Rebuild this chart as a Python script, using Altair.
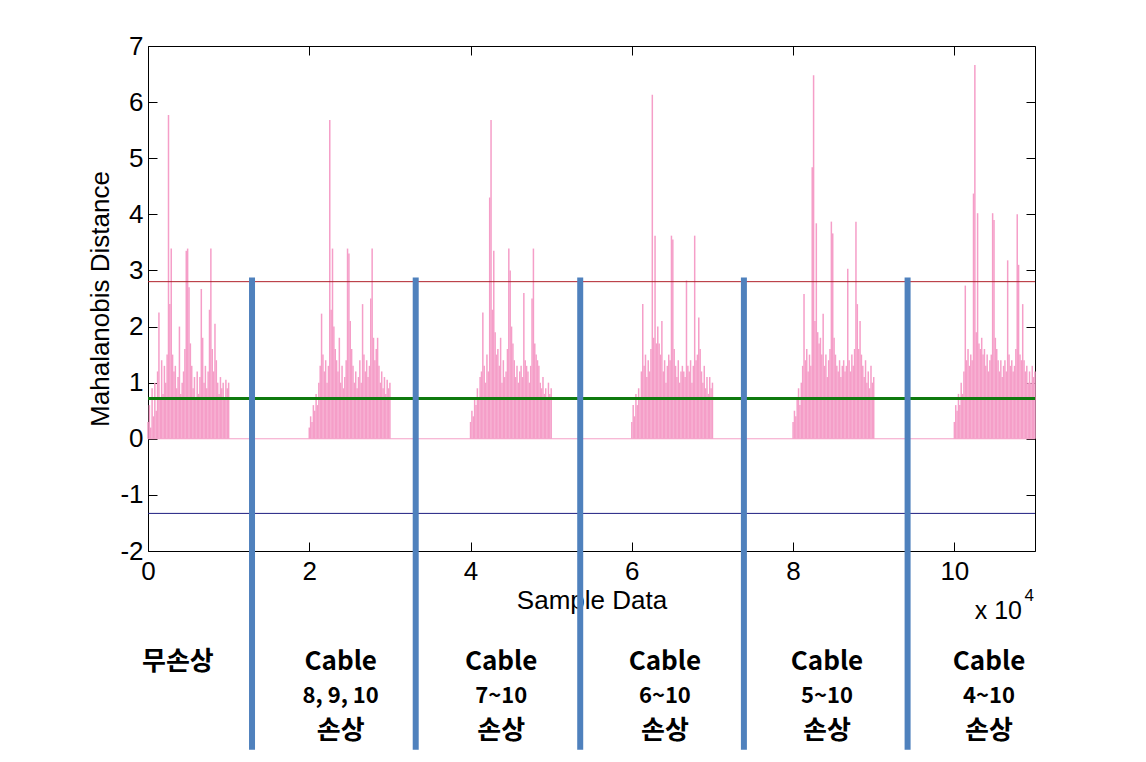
import altair as alt
import pandas as pd

# ---------------- data ----------------
seg_starts = [0, 20000, 40000, 60000, 80000, 100000]   # sample index where each test starts
seg_span = 10000                                        # samples in one test

seg1 = [0.3, 0.6, 0.2, 0.9, 0.4, 1.0, 0.5, 1.2, 2.25, 0.7,
        1.4, 0.8, 1.3, 1.0, 1.5, 5.77, 2.4, 3.39, 1.5, 1.2,
        1.3, 0.9, 1.1, 2.0, 0.8, 1.0, 1.2, 1.6, 3.35, 3.39,
        2.7, 1.7, 1.3, 0.9, 1.1, 0.7, 1.2, 0.8, 1.1, 2.67,
        1.8, 1.0, 1.3, 0.9, 1.2, 2.3, 3.39, 1.6, 1.2, 2.05,
        1.4, 1.0, 0.8, 1.1, 0.9, 1.0, 0.7, 1.05, 0.9, 1.0]
seg2 = [0.2, 0.4, 0.3, 0.6, 0.5, 0.8, 0.6, 1.0, 1.3, 2.23,
        1.5, 1.2, 1.4, 1.0, 1.3, 5.68, 2.3, 3.39, 2.0, 1.6,
        1.4, 1.2, 1.8, 1.0, 1.3, 0.9, 1.1, 1.4, 3.39, 3.3,
        2.1, 1.6, 1.3, 1.0, 1.2, 0.9, 1.1, 1.4, 1.0, 2.4,
        1.5, 1.2, 1.4, 1.1, 1.3, 2.5, 3.39, 1.8, 1.4, 1.6,
        1.8, 1.3, 1.0, 1.2, 0.9, 1.1, 0.8, 1.05, 0.9, 1.0]
seg3 = [0.3, 0.5, 0.4, 0.7, 0.6, 0.9, 0.7, 1.1, 1.2, 2.25,
        1.3, 1.0, 1.5, 1.2, 4.3, 5.68, 2.3, 3.35, 1.9, 1.5,
        1.6, 1.3, 1.8, 1.0, 1.4, 1.1, 1.2, 1.6, 3.39, 3.0,
        2.0, 1.7, 1.4, 1.1, 1.3, 1.0, 1.2, 1.3, 1.1, 2.6,
        1.4, 1.3, 1.2, 1.0, 1.3, 2.5, 3.39, 1.7, 1.5, 1.4,
        1.3, 1.0, 0.9, 1.1, 0.8, 0.9, 0.7, 1.0, 0.8, 0.9]
seg4 = [0.3, 0.6, 0.4, 0.8, 0.6, 0.9, 0.7, 1.2, 2.4, 1.3,
        1.5, 1.1, 1.4, 1.2, 1.6, 6.13, 1.8, 3.62, 1.7, 2.0,
        1.7, 1.5, 2.1, 1.2, 1.4, 1.0, 1.3, 1.5, 1.4, 3.62,
        3.55, 1.6, 1.3, 1.1, 1.4, 1.0, 1.2, 1.3, 1.2, 1.1,
        2.82, 1.3, 1.2, 1.4, 1.0, 1.3, 3.62, 1.4, 1.5, 2.16,
        1.6, 1.2, 1.0, 1.3, 0.9, 1.1, 0.8, 1.1, 0.9, 1.0]
seg5 = [0.3, 0.5, 0.4, 0.7, 0.9, 0.6, 1.0, 1.3, 2.58, 1.4,
        1.6, 1.2, 1.5, 1.3, 4.84, 6.48, 2.1, 3.84, 1.9, 1.7,
        1.8, 1.5, 2.23, 1.3, 1.5, 1.1, 1.4, 1.6, 3.87, 3.66,
        1.8, 1.5, 1.3, 1.2, 1.4, 1.1, 1.3, 1.4, 1.2, 1.3,
        3.03, 1.4, 1.2, 1.5, 1.3, 1.6, 3.87, 2.4, 1.6, 2.1,
        1.5, 1.3, 1.1, 1.4, 1.0, 1.2, 0.9, 1.3, 1.0, 1.1]
seg6 = [0.3, 0.6, 0.5, 0.8, 0.6, 1.0, 0.8, 1.2, 2.73, 1.4,
        1.6, 1.3, 1.5, 1.4, 4.37, 6.66, 1.9, 4.02, 1.7, 1.6,
        1.8, 1.5, 1.6, 1.3, 1.5, 1.2, 1.4, 1.5, 4.02, 3.9,
        1.8, 1.6, 1.4, 1.2, 1.4, 1.1, 1.3, 1.4, 1.2, 3.18,
        1.5, 1.3, 1.4, 1.2, 1.3, 1.6, 4.0, 3.1, 1.5, 1.4,
        2.4, 1.4, 1.2, 1.3, 1.0, 1.2, 1.0, 1.3, 1.1, 1.2]
segments = [seg1, seg2, seg3, seg4, seg5, seg6]

upper_limit = [2.8]
mean_level = [0.72]
lower_limit = [-1.33]
zero_level = [0, 0]
zero_span = [0, 110000]

separator_x = [12900, 33200, 53600, 73900, 94200]
separator_top = 2.875
separator_bottom = -5.54

header_text = ["무손상", "Cable", "Cable", "Cable", "Cable", "Cable"]
cable_text = ["8, 9, 10", "7~10", "6~10", "5~10", "4~10"]
damage_text = ["손상", "손상", "손상", "손상", "손상"]
label_x = [3700, 23900, 43800, 64100, 84200, 104300]
row_y = [-3.98, -4.58, -5.20]

x_ticks = [0, 20000, 40000, 60000, 80000, 100000]
y_ticks = [-2, -1, 0, 1, 2, 3, 4, 5, 6, 7]

# ---------------- tables ----------------
rows = []
for start, vals in zip(seg_starts, segments):
    n = len(vals)
    for i, v in enumerate(vals):
        rows.append({"x": start + i * seg_span / (n - 1), "v": v, "b": 0.0})
spikes = pd.DataFrame(rows)

zero_df = pd.DataFrame({"x": zero_span, "y": zero_level})
sep_df = pd.DataFrame({"x": separator_x, "y": [separator_top] * len(separator_x),
                       "y2": [separator_bottom] * len(separator_x)})
head_df = pd.DataFrame({"x": label_x, "y": [row_y[0]] * 6, "t": header_text})
cable_df = pd.DataFrame({"x": label_x[1:], "y": [row_y[1]] * 5, "t": cable_text})
dmg_df = pd.DataFrame({"x": label_x[1:], "y": [row_y[2]] * 5, "t": damage_text})

W, H = 887, 505
FONT = "Liberation Sans"
KFONT = "Noto Sans CJK KR"

xs = alt.Scale(domain=[0, 110000], nice=False, zero=False)
ys = alt.Scale(domain=[-2, 7], nice=False, zero=False)

def tick_axis(orient, offset, values):
    return alt.Axis(orient=orient, offset=offset, values=values, labels=False,
                    domain=False, ticks=True, tickSize=9, tickColor="black",
                    tickWidth=1, grid=False, title=None)

x_main = alt.Axis(orient="bottom", values=x_ticks, labelExpr="datum.value / 10000",
                  labelFlush=False, tickSize=0, domain=False, grid=False,
                  labelFont=FONT, labelFontSize=26,
                  labelColor="black", labelPadding=7, title="Sample Data",
                  titleFont=FONT, titleFontSize=26, titleFontWeight="normal",
                  titleColor="black", titlePadding=3)
y_main = alt.Axis(orient="left", values=y_ticks, tickSize=0, domain=False, grid=False,
                  labelExpr="datum.value < 0 ? '-' + abs(datum.value) : '' + datum.value",
                  labelFlush=False,
                  labelFont=FONT, labelFontSize=26, labelColor="black", labelPadding=5,
                  title="Mahalanobis Distance", titleFont=FONT, titleFontSize=26,
                  titleFontWeight="normal", titleColor="black", titlePadding=6)

spike_layer = alt.Chart(spikes).mark_rule(color="#F59EC8", strokeWidth=1.5).encode(
    x=alt.X("x:Q", scale=xs, axis=x_main),
    y=alt.Y("v:Q", scale=ys, axis=y_main),
    y2="b:Q",
)

zero_layer = alt.Chart(zero_df).mark_line(color="#F5A0C8", strokeWidth=1).encode(
    x=alt.X("x:Q", scale=xs, axis=tick_axis("top", -H, x_ticks)),
    y=alt.Y("y:Q", scale=ys, axis=tick_axis("right", -W, y_ticks)),
)

upper_layer = alt.Chart(pd.DataFrame({"y": upper_limit})).mark_rule(
    color="#B0202A", strokeWidth=1).encode(
    y=alt.Y("y:Q", scale=ys, axis=tick_axis("left", -W, y_ticks)))
mean_layer = alt.Chart(pd.DataFrame({"y": mean_level})).mark_rule(
    color="#0E7A0E", strokeWidth=3).encode(y=alt.Y("y:Q", scale=ys, axis=None))
lower_layer = alt.Chart(pd.DataFrame({"y": lower_limit})).mark_rule(
    color="#1C1C80", strokeWidth=1).encode(y=alt.Y("y:Q", scale=ys, axis=None))

sep_layer = alt.Chart(sep_df).mark_rule(color="#4F81BD", strokeWidth=6).encode(
    x=alt.X("x:Q", scale=xs, axis=tick_axis("bottom", -H, x_ticks)),
    y=alt.Y("y:Q", scale=ys, axis=None),
    y2="y2:Q",
)

def text_layer(df, size):
    return alt.Chart(df).mark_text(font=KFONT, fontWeight="bold", fontSize=size,
                                   color="black", align="center", baseline="middle").encode(
        x=alt.X("x:Q", scale=xs, axis=None),
        y=alt.Y("y:Q", scale=ys, axis=None),
        text="t:N",
    )

exp_df = pd.DataFrame({"x": [105450], "y": [-3.07], "t": ["x 10"]})
sup_df = pd.DataFrame({"x": [109280], "y": [-2.80], "t": ["4"]})
exp_layer = alt.Chart(exp_df).mark_text(font=FONT, fontSize=25, color="black",
                                        align="center", baseline="middle").encode(
    x=alt.X("x:Q", scale=xs, axis=None), y=alt.Y("y:Q", scale=ys, axis=None), text="t:N")
sup_layer = alt.Chart(sup_df).mark_text(font=FONT, fontSize=17, color="black",
                                        align="center", baseline="middle").encode(
    x=alt.X("x:Q", scale=xs, axis=None), y=alt.Y("y:Q", scale=ys, axis=None), text="t:N")

chart = alt.layer(
    spike_layer, zero_layer, upper_layer, mean_layer, lower_layer, sep_layer,
    text_layer(head_df, 26), text_layer(cable_df, 22), text_layer(dmg_df, 26),
    exp_layer, sup_layer,
).resolve_axis(x="independent", y="independent").properties(
    width=W, height=H,
    autosize=alt.AutoSizeParams(type="none"),
    padding={"left": 140, "top": 38, "right": 100, "bottom": 205},
    background="white",
).configure_view(stroke="black", strokeWidth=1)

chart.save("out.html", embed_options={"renderer": "svg", "actions": False})
